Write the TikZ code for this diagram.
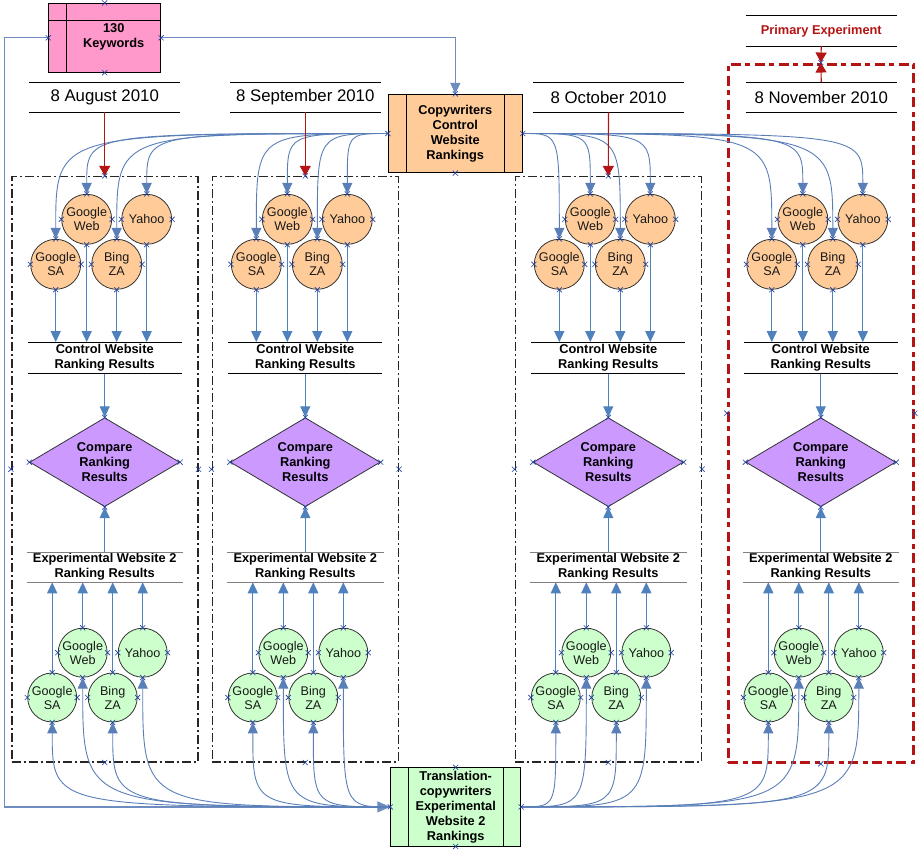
\documentclass[tikz,border=0pt]{standalone}
\usepackage{fontspec}
\setmainfont{Liberation Sans}
\usetikzlibrary{shapes.geometric,shapes.misc,arrows.meta}
\definecolor{lnblue}{HTML}{4F81BD}
\definecolor{cvblue}{HTML}{5A7FB8}
\definecolor{kwblue}{RGB}{110,140,190}
\definecolor{dred}{RGB}{180,20,20}
\definecolor{kwpink}{HTML}{FF99CC}
\definecolor{orng}{HTML}{FFCC99}
\definecolor{grn}{HTML}{CCFFCC}
\definecolor{prpl}{HTML}{CC99FF}
\definecolor{cpblue}{HTML}{1F3F9F}
\begin{document}
\begin{tikzpicture}[x=1pt,y=-1pt,
  every node/.style={inner sep=0pt},
  bt/.style={font=\fontsize{12.8}{15}\selectfont\bfseries, align=center},
  ocirc/.style={circle, draw=black!80, line width=0.8pt, fill=orng, minimum size=50pt, inner sep=0pt, align=center, font=\fontsize{12.6}{14}\selectfont, text=black!90},
  gcirc/.style={ocirc, fill=grn, minimum size=49pt},
  datelbl/.style={minimum width=150.7pt, minimum height=30pt, font=\fontsize{16.8}{20}\selectfont},
  reslbl/.style={bt, minimum width=153.3pt, minimum height=31pt},
  explbl/.style={bt, minimum width=156pt, minimum height=29.7pt},
  cmpd/.style={diamond, aspect=1.685, draw=black!80, line width=0.8pt, fill=prpl, minimum width=150pt, minimum height=89pt, inner sep=0pt, bt},
  colbox/.style={draw=black!85, line width=1.6pt, dash pattern=on 9pt off 3pt on 2pt off 3pt, minimum width=186pt, minimum height=585pt},
  redbox/.style={draw=dred, line width=3pt, dash pattern=on 10pt off 4.5pt on 5pt off 4.5pt, minimum width=185pt, minimum height=698.3pt},
  blk/.style={draw=black, line width=0.8pt},
  procbox/.style={blk, rectangle, bt},
  arr/.style={draw=lnblue, line width=1.3pt, -{Triangle[length=11pt,width=10pt]}},
  crv/.style={draw=cvblue, line width=0.9pt, -{Triangle[length=11pt,width=10pt]}},
  redarr/.style={draw=dred, line width=1.1pt, -{Triangle[length=10pt,width=11pt]}},
  kwln/.style={draw=kwblue, line width=1.3pt},
  cpt/.style={cross out, draw=cpblue, line width=0.6pt, minimum size=4.5pt, inner sep=0pt},
]
\useasboundingbox (0,0) rectangle (924,853);

% column boxes
\node[colbox] (box1) at (104.7,469.2) {};
\node[colbox] (box2) at (305.3,469.2) {};
\node[colbox] (box3) at (608.3,469.2) {};
\node[redbox] (box4) at (820.8,413.2) {};

% keywords
\node[procbox, fill=kwpink, minimum width=112pt, minimum height=69pt] (kw) at (104.7,37.8) {};
\draw[blk] ([xshift=18pt]kw.north west) -- ([xshift=18pt]kw.south west);
\draw[blk] ([yshift=-17.4pt]kw.north west) -- ([yshift=-17.4pt]kw.north east);
\node[bt] (kwt) at (113.7,36.5) {130\\Keywords};

% process boxes
\node[procbox, fill=orng, minimum width=134pt, minimum height=78.4pt] (cw) at (455.3,133.5) {Copywriters\\Control\\Website\\Rankings};
\draw[blk] ([xshift=18.4pt]cw.north west) -- ([xshift=18.4pt]cw.south west);
\draw[blk] ([xshift=-18pt]cw.north east) -- ([xshift=-18pt]cw.south east);
\node[procbox, fill=grn, minimum width=130pt, minimum height=78.3pt] (tr) at (455.7,806.9) {Translation-\\copywriters\\Experimental\\Website 2\\Rankings};
\draw[blk] ([xshift=18.3pt]tr.north west) -- ([xshift=18.3pt]tr.south west);
\draw[blk] ([xshift=-18pt]tr.north east) -- ([xshift=-18pt]tr.south east);

% date labels
\foreach \c/\cx/\d in {1/104.7/8 August 2010,2/305.3/8 September 2010,3/608.5/8 October 2010,4/821.3/8 November 2010}{
  \node[datelbl] (d\c) at (\cx,97.3) {\d};
  \draw[blk] (d\c.north west) -- (d\c.north east) (d\c.south west) -- (d\c.south east);
}
\node[bt, text=dred, minimum width=150.7pt, minimum height=30pt] (pe) at (821.3,31) {Primary Experiment};
\draw[blk] (pe.north west) -- (pe.north east) (pe.south west) -- (pe.south east);

% keyword lines
\coordinate (kwc) at (4.3,37.8);
\draw[kwln, -{Triangle[length=11pt,width=10pt]}] (kw.east) -| (cw.north);
\draw[kwln, -{Triangle[length=13pt,width=11pt]}] (kw.west) -- (kwc) |- (tr.west);

% columns
\foreach \c/\cx/\sd in {1/104.7/west,2/305.3/west,3/608.3/east,4/820.8/east}{
  \node[ocirc] (osa\c) at ({\cx-49},264.3) {Google\\SA};
  \node[ocirc] (ogw\c) at ({\cx-18},219.3) {Google\\Web};
  \node[ocirc] (obz\c) at ({\cx+12},264.3) {Bing\\ZA};
  \node[ocirc] (oy\c) at ({\cx+42},219.3) {Yahoo};
  \node[reslbl] (ctrl\c) at (\cx,357.8) {Control Website\\Ranking Results};
  \draw[blk] (ctrl\c.north west) -- (ctrl\c.north east) (ctrl\c.south west) -- (ctrl\c.south east);
  \node[cmpd] (cmp\c) at (\cx,462.2) {Compare\\Ranking\\Results};
  \node[explbl] (exp\c) at (\cx,567.2) {Experimental Website 2\\Ranking Results};
  \draw[draw=gray, line width=1.3pt] (exp\c.north west) -- (exp\c.north east) (exp\c.south west) -- (exp\c.south east);
  \node[gcirc] (gsa\c) at ({\cx-52.5},697.5) {Google\\SA};
  \node[gcirc] (ggw\c) at ({\cx-22},652.7) {Google\\Web};
  \node[gcirc] (gbz\c) at ({\cx+8},697.5) {Bing\\ZA};
  \node[gcirc] (gy\c) at ({\cx+38},652.7) {Yahoo};
  \draw[arr] (ctrl\c.south) -- (cmp\c.north);
  \draw[arr] (exp\c.north) -- (cmp\c.south);
  \foreach \o in {osa,ogw,obz,oy}{
    \draw[arr] (\o\c.south) -- (\o\c.south |- ctrl\c.north);
    \draw[crv] (cw.\sd) .. controls (\o\c.north |- cw.\sd) .. (\o\c.north);
  }
  \foreach \g in {gsa,ggw,gbz,gy}{
    \draw[arr] (\g\c.north) -- (\g\c.north |- exp\c.south);
    \draw[crv] (tr.\sd) .. controls (\g\c.south |- tr.\sd) .. (\g\c.south);
  }
}

% red arrows
\foreach \c in {1,2,3} \draw[redarr] (d\c.south) -- (box\c.north);
\draw[redarr] (pe.south) -- (box4.north);
\draw[redarr] (d4.north) -- (box4.north);

% connection marks
\foreach \nm in {kw,cw,tr,box1,box2,box3,box4}
  \foreach \a in {north,south,east,west} \node[cpt] at (\nm.\a) {};
\foreach \c in {1,2,3,4}
  \foreach \nm in {osa,ogw,obz,oy,gsa,ggw,gbz,gy,cmp}
    \foreach \a in {north,south,east,west} \node[cpt] at (\nm\c.\a) {};
\end{tikzpicture}
\end{document}
